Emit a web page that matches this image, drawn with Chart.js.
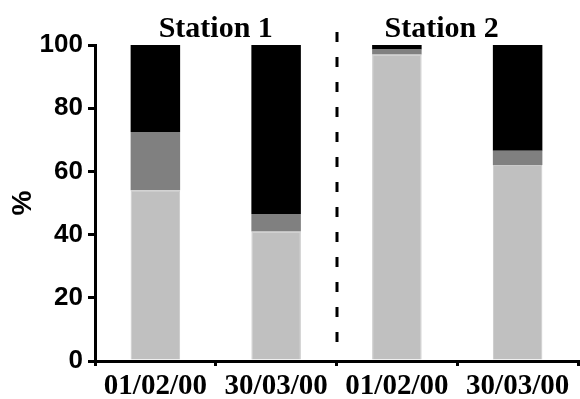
<!DOCTYPE html>
<html>
<head>
<meta charset="utf-8">
<script src="https://cdn.jsdelivr.net/npm/chart.js@4"></script>
<style>
html,body{margin:0;padding:0;background:#fff;}
#wrap{width:580px;height:399px;position:relative;}
</style>
</head>
<body>
<div id="wrap"><canvas id="c" width="580" height="399"></canvas></div>
<script>
const categories = ["01/02/00", "30/03/00", "01/02/00", "30/03/00"];
const lightValues = [54, 41, 97, 62];
const greyValues = [18.5, 5.5, 1.6, 4.5];
const blackValues = [27.5, 53.5, 1.4, 33.5];
const stationLabels = ["Station 1", "Station 2"];
const stationPositions = [0.5, 2.37];
const dividerPosition = 1.5;
const yTicks = [0, 20, 40, 60, 80, 100];

const overlay = {
  id: 'overlay',
  afterDraw(chart) {
    const ctx = chart.ctx, x = chart.scales.x, y = chart.scales.y;
    ctx.save();
    const dx = Math.round(x.getPixelForValue(dividerPosition));
    ctx.strokeStyle = '#000';
    ctx.lineWidth = 3;
    ctx.setLineDash([10, 15]);
    ctx.beginPath();
    ctx.moveTo(dx, chart.chartArea.top - 13);
    ctx.lineTo(dx, y.getPixelForValue(3));
    ctx.stroke();
    ctx.setLineDash([]);
    ctx.fillStyle = '#000';
    ctx.font = 'bold 30px "Liberation Serif", "Times New Roman", serif';
    ctx.textAlign = 'center';
    ctx.textBaseline = 'alphabetic';
    stationLabels.forEach((s, i) => {
      ctx.fillText(s, x.getPixelForValue(stationPositions[i]), chart.chartArea.top - 8);
    });
    ctx.restore();
  }
};

new Chart(document.getElementById('c'), {
  type: 'bar',
  data: {
    labels: categories,
    datasets: [
      { data: lightValues, backgroundColor: '#c0c0c0', borderColor: '#cacaca', borderWidth: 1 },
      { data: greyValues, backgroundColor: '#808080' },
      { data: blackValues, backgroundColor: '#000000' }
    ]
  },
  options: {
    responsive: false,
    animation: false,
    devicePixelRatio: 1,
    layout: { padding: { top: 45, right: 2, left: 0, bottom: 0 } },
    plugins: { legend: { display: false }, tooltip: { enabled: false } },
    datasets: { bar: { barPercentage: 0.41, categoryPercentage: 1.0 } },
    scales: {
      x: {
        stacked: true,
        offset: true,
        grid: { offset: true, drawOnChartArea: false, drawTicks: true, tickLength: 5, color: '#000', lineWidth: 3 },
        border: { display: true, color: '#000', width: 3 },
        ticks: {
          color: '#000', padding: 6, maxRotation: 0, autoSkip: false,
          font: { family: '"Liberation Serif", "Times New Roman", serif', weight: 'bold', size: 29, lineHeight: 1.0 }
        },
        afterFit(scale) { scale.height = 38; }
      },
      y: {
        stacked: true,
        min: 0, max: 100,
        grid: { drawOnChartArea: false, drawTicks: true, tickLength: 7, color: '#000', lineWidth: 3 },
        border: { display: true, color: '#000', width: 3 },
        ticks: {
          stepSize: 10, color: '#000', padding: 5,
          font: { family: '"Liberation Sans", Arial, sans-serif', weight: 'bold', size: 26 },
          callback: (v) => yTicks.includes(v) ? String(v) : ''
        },
        title: {
          display: true, text: '%', color: '#000', padding: { top: 6, bottom: 0 },
          font: { family: '"Liberation Sans", Arial, sans-serif', weight: 'bold', size: 28 }
        },
        afterFit(scale) { scale.width = 95; }
      }
    }
  },
  plugins: [overlay]
});
</script>
</body>
</html>
